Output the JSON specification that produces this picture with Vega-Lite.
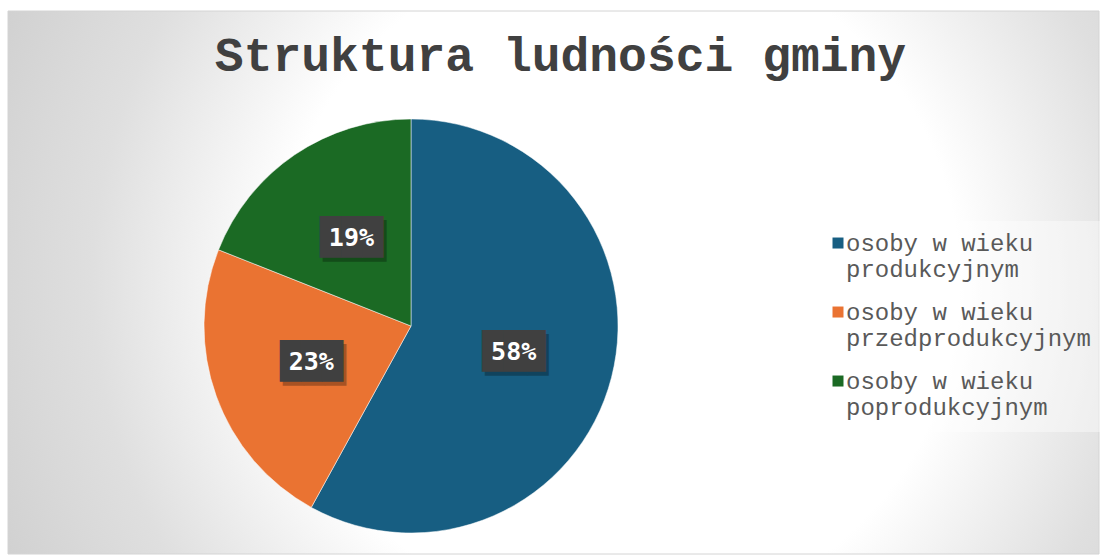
{
  "$schema": "https://vega.github.io/schema/vega-lite/v6.json",
  "width": 1102,
  "height": 557,
  "autosize": {"type": "fit", "contains": "padding"},
  "padding": {"left": 7, "top": 10, "right": 2, "bottom": 2},
  "background": "#ffffff",
  "title": {
    "text": "Struktura ludności gminy",
    "font": "Liberation Mono",
    "fontSize": 48,
    "fontWeight": "bold",
    "color": "#404040",
    "anchor": "middle",
    "frame": "group",
    "orient": "top",
    "offset": -70,
    "dx": 7
  },
  "datasets": {
    "ludnosc": [
      {"grupa": "osoby w wieku produkcyjnym", "udzial": 0.58, "kolejnosc": 1},
      {"grupa": "osoby w wieku przedprodukcyjnym", "udzial": 0.23, "kolejnosc": 2},
      {"grupa": "osoby w wieku poprodukcyjnym", "udzial": 0.19, "kolejnosc": 3}
    ],
    "tlo": [{"tlo": 1}]
  },
  "data": {"name": "ludnosc"},
  "layer": [
    {
      "data": {"name": "tlo"},
      "mark": {
        "type": "rect",
        "stroke": "#d4d4d4",
        "strokeWidth": 1,
        "fill": {
          "gradient": "radial",
          "x1": 0.56, "y1": 0.5, "r1": 0,
          "x2": 0.56, "y2": 0.5, "r2": 0.71,
          "stops": [
            {"offset": 0, "color": "#ffffff"},
            {"offset": 0.44, "color": "#ffffff"},
            {"offset": 0.68, "color": "#dfdfdf"},
            {"offset": 0.76, "color": "#d9d9d9"},
            {"offset": 1, "color": "#c6c6c6"}
          ]
        }
      },
      "encoding": {}
    },
    {
      "mark": {"type": "arc", "outerRadius": 207, "x": 403, "y": 315, "stroke": "#ffffff", "strokeWidth": 0.5},
      "encoding": {
        "theta": {"field": "udzial", "type": "quantitative", "stack": true},
        "order": {"field": "kolejnosc", "type": "quantitative"},
        "color": {
          "field": "grupa",
          "type": "nominal",
          "sort": ["osoby w wieku produkcyjnym", "osoby w wieku przedprodukcyjnym", "osoby w wieku poprodukcyjnym"],
          "scale": {
            "domain": ["osoby w wieku produkcyjnym", "osoby w wieku przedprodukcyjnym", "osoby w wieku poprodukcyjnym"],
            "range": ["#175E82", "#EA7332", "#1B6A24"]
          },
          "legend": {
            "title": " ",
            "titleFontSize": 1,
            "titlePadding": 5,
            "orient": "none",
            "legendX": 806,
            "legendY": 210,
            "padding": 12,
            "fillColor": "rgba(255,255,255,0.4)",
            "labelFont": "Liberation Mono",
            "labelFontSize": 24,
            "labelColor": "#595959",
            "labelLimit": 400,
            "labelOffset": -4,
            "labelLineHeight": 27,
            "labelBaseline": "alphabetic",
            "labelExpr": "['osoby w wieku', replace(datum.label, 'osoby w wieku ', '')]",
            "symbolType": "M-1,-2.45H1V-0.45H-1Z",
            "symbolSize": 121,
            "symbolStrokeWidth": 0,
            "symbolOpacity": 1,
            "rowPadding": 19
          }
        }
      }
    },
    {
      "mark": {"type": "text", "x": 403, "y": 315, "text": "███", "font": "DejaVu Sans Mono", "fontSize": 35, "color": "#000000", "opacity": 0.28, "dx": 3, "dy": 4, "baseline": "middle", "align": "center"},
      "encoding": {
        "theta": {"field": "udzial", "type": "quantitative", "stack": true},
        "order": {"field": "kolejnosc", "type": "quantitative"},
        "detail": {"field": "grupa", "type": "nominal"},
        "radius": {"value": 106}
      }
    },
    {
      "mark": {"type": "text", "x": 403, "y": 315, "text": "███", "font": "DejaVu Sans Mono", "fontSize": 35, "color": "#404040", "baseline": "middle", "align": "center"},
      "encoding": {
        "theta": {"field": "udzial", "type": "quantitative", "stack": true},
        "order": {"field": "kolejnosc", "type": "quantitative"},
        "detail": {"field": "grupa", "type": "nominal"},
        "radius": {"value": 106}
      }
    },
    {
      "mark": {"type": "text", "x": 403, "y": 315, "font": "DejaVu Sans Mono", "fontSize": 25, "fontWeight": "bold", "color": "#ffffff", "baseline": "middle", "align": "center"},
      "encoding": {
        "theta": {"field": "udzial", "type": "quantitative", "stack": true},
        "order": {"field": "kolejnosc", "type": "quantitative"},
        "detail": {"field": "grupa", "type": "nominal"},
        "radius": {"value": 106},
        "text": {"field": "udzial", "type": "quantitative", "format": ".0%"}
      }
    }
  ],
  "config": {"view": {"stroke": null}}
}
